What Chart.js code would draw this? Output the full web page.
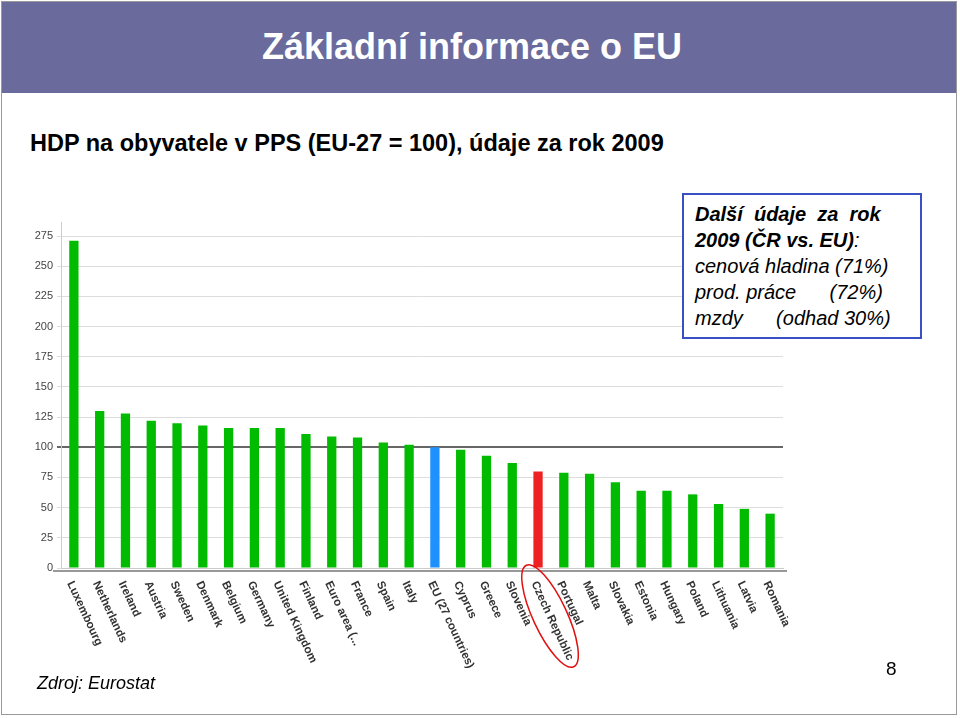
<!DOCTYPE html>
<html><head><meta charset="utf-8">
<script src="https://cdn.jsdelivr.net/npm/chart.js@4"></script>
<style>
body{margin:0;width:960px;height:718px;overflow:hidden;background:#fff;font-family:"Liberation Sans",Arial,sans-serif;position:relative}
#frame{position:absolute;left:1px;top:1px;width:956px;height:714px;border:1px solid #999;box-sizing:border-box}
#hdr{position:absolute;left:2px;top:2px;width:954px;height:91px;background:#6a6a9c}
#title{position:absolute;left:262px;top:26px;color:#fff;font-size:36px;font-weight:bold}
#sub{position:absolute;left:30px;top:130px;font-size:23.5px;font-weight:bold}
#box{position:absolute;left:682px;top:193px;width:240px;height:146px;border:2px solid #3a4fc4;box-sizing:border-box;background:#fff;font-size:20px;font-style:italic;padding:6px 0 0 11px;line-height:26px}
#src{position:absolute;left:37px;top:673px;font-size:18px;font-style:italic}
#pg{position:absolute;left:886px;top:658px;font-size:19px}
canvas{position:absolute;left:0;top:0}
</style></head><body>
<div id="frame"></div><div id="hdr"></div>
<div id="title">Základní informace o EU</div>
<div id="sub">HDP na obyvatele v PPS (EU-27 = 100), údaje za rok 2009</div>
<div style="position:absolute;left:0;top:0;width:960px;height:718px"><canvas id="c"></canvas></div>
<div id="box"><b>Další&nbsp; údaje&nbsp; za&nbsp; rok 2009 (ČR vs. EU)</b>:<br>cenová hladina (71%)<br>prod. práce &nbsp;&nbsp;&nbsp;&nbsp; (72%)<br>mzdy &nbsp;&nbsp;&nbsp;&nbsp; (odhad 30%)</div>
<div id="src">Zdroj: Eurostat</div>
<div id="pg">8</div>
<script>
const categories=["Luxembourg","Netherlands","Ireland","Austria","Sweden","Denmark","Belgium","Germany","United Kingdom","Finland","Euro area (...","France","Spain","Italy","EU (27 countries)","Cyprus","Greece","Slovenia","Czech Republic","Portugal","Malta","Slovakia","Estonia","Hungary","Poland","Lithuania","Latvia","Romania"];
const values=[271,130,128,122,120,118,116,116,116,111,109,108,104,102,100,98,93,87,80,79,78,71,64,64,61,53,49,45];
const yTicks=[0,25,50,75,100,125,150,175,200,225,250,275];
const colors=categories.map(c=>c.startsWith("EU (")?"#1e90ff":c==="Czech Republic"?"#ee2222":"#00bb00");
const labelPlugin={id:"lbl",afterDraw(ch){
 const ctx=ch.ctx,xs=ch.scales.x,ca=ch.chartArea;
 ctx.save();
 ctx.strokeStyle="#999";ctx.lineWidth=2;ctx.beginPath();ctx.moveTo(ca.left-8,ca.bottom+3);ctx.lineTo(ca.right+4,ca.bottom+3);ctx.stroke();
 ctx.font="bold 11.5px 'Liberation Sans',Arial";ctx.fillStyle="#333";ctx.textBaseline="middle";ctx.textAlign="left";
 categories.forEach((c,i)=>{const x=xs.getPixelForValue(i);
  ctx.save();ctx.translate(x-4,ca.bottom+14);ctx.rotate(65*Math.PI/180);ctx.fillText(c,0,0);ctx.restore();
  if(c==="Czech Republic"){ctx.save();ctx.translate(x+12,ca.bottom+48);ctx.rotate(65*Math.PI/180);
   ctx.strokeStyle="#e01010";ctx.lineWidth=1.5;ctx.beginPath();ctx.ellipse(0,0,56,17,0,0,2*Math.PI);ctx.stroke();ctx.restore();}
 });
 ctx.restore();}};
new Chart(document.getElementById("c"),{type:"bar",
 data:{labels:categories,datasets:[{data:values,backgroundColor:colors,barPercentage:0.36,categoryPercentage:1}]},
 options:{responsive:true,maintainAspectRatio:false,animation:false,
  layout:{padding:{left:20,top:222,right:177,bottom:50}},
  plugins:{legend:{display:false},tooltip:{enabled:false}},
  scales:{
   x:{ticks:{display:false},grid:{display:false},border:{color:"#ccc"},afterFit(s){s.height=100;}},
   y:{min:0,max:286.6,afterBuildTicks(s){s.ticks=yTicks.map(v=>({value:v}));},
      ticks:{font:{size:11,family:"'Liberation Sans',Arial"},color:"#444",padding:4},
      grid:{color:c=>c.tick&&c.tick.value===100?"#666":"#ddd",lineWidth:c=>c.tick&&c.tick.value===100?2:1,tickLength:4},
      border:{color:"#ccc"},afterFit(s){s.width=41;}}
  }},plugins:[labelPlugin]});
</script></body></html>
